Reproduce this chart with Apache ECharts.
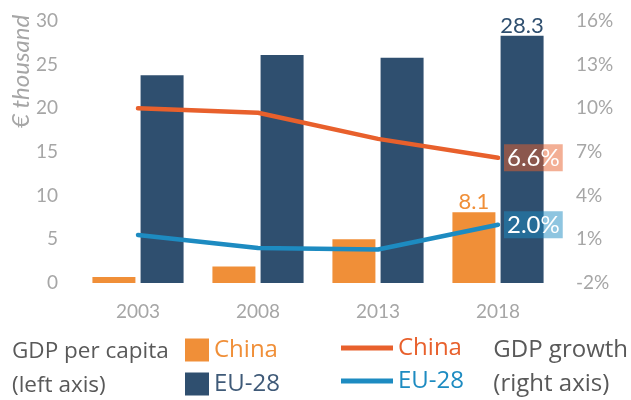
<!DOCTYPE html>
<html>
<head>
<meta charset="utf-8">
<script src="https://cdn.jsdelivr.net/npm/echarts@6/dist/echarts.min.js"></script>
<style>html,body{margin:0;padding:0;background:#fff}#c{width:631px;height:400px}</style>
</head>
<body>
<div id="c"></div>
<script>
const years = ['2003', '2008', '2013', '2018'];
const chinaGdpPerCapita = [0.7, 1.9, 5.0, 8.1];
const euGdpPerCapita = [23.8, 26.1, 25.8, 28.3];
const chinaGrowth = [10.0, 9.7, 7.9, 6.6];
const euGrowth = [1.3, 0.4, 0.3, 2.0];
const leftTicks = [0, 5, 10, 15, 20, 25, 30];
const rightTicks = [-2, 1, 4, 7, 10, 13, 16];

const C_BAR_CN = '#F08F38', C_BAR_EU = '#2F4F6F', C_LN_CN = '#E8602C', C_LN_EU = '#1D8BC1';
const AX = '#A6A6A6';
const LF = '"Lato", sans-serif', TF = '"Open Sans", sans-serif';

const chart = echarts.init(document.getElementById('c'), null, {renderer: 'canvas'});
const lastIdx = years.length - 1;
function lastOnly(arr, color) {
  return arr.map((v, i) => i === lastIdx ? {
    value: v,
    label: {show: true, position: 'top', distance: -1, color: color, fontFamily: LF, fontSize: 22,
      formatter: (p) => p.value.toFixed(1)}
  } : v);
}
function endLab(bg) {
  return {show: true, distance: 6, color: '#fff', fontFamily: LF, fontSize: 24,
    backgroundColor: bg, padding: [2, 3, 1, 3], formatter: (p) => Number(p.value).toFixed(1) + '%'};
}
const legendBase = {orient: 'vertical', itemGap: 0, padding: 0, textStyle: {fontFamily: TF, fontSize: 24}};
chart.setOption({
  animation: false,
  grid: {left: 78, right: 73, top: 21, bottom: 117},
  xAxis: {
    type: 'category', data: years,
    axisLine: {show: false}, axisTick: {show: false},
    axisLabel: {color: AX, fontFamily: LF, fontSize: 19, margin: 19}
  },
  yAxis: [{
    type: 'value', min: leftTicks[0], max: leftTicks[leftTicks.length - 1], interval: 5,
    splitLine: {show: false}, axisLine: {show: false}, axisTick: {show: false},
    axisLabel: {color: AX, fontFamily: LF, fontSize: 19, margin: 20}
  }, {
    type: 'value', min: rightTicks[0], max: rightTicks[rightTicks.length - 1], interval: 3,
    splitLine: {show: false}, axisLine: {show: false}, axisTick: {show: false},
    axisLabel: {color: AX, fontFamily: LF, fontSize: 19, margin: 18, formatter: '{value}%'}
  }],
  legend: [
    Object.assign({}, legendBase, {left: 185, top: 338, itemWidth: 24, itemHeight: 23, itemGap: 4, icon: 'rect',
      data: [{name: 'China GDP per capita', textStyle: {color: C_BAR_CN}}], formatter: () => 'China'}),
    Object.assign({}, legendBase, {left: 185, top: 372, itemWidth: 24, itemHeight: 23, itemGap: 4, icon: 'rect',
      data: [{name: 'EU-28 GDP per capita', textStyle: {color: '#3F5A78'}}], formatter: () => 'EU-28'}),
    Object.assign({}, legendBase, {left: 341, top: 336, itemWidth: 52, itemHeight: 29, itemGap: 6, icon: 'path://M0,12 L52,12 L52,17 L0,17 Z',
      data: [{name: 'China GDP growth', textStyle: {color: C_LN_CN}}], formatter: () => 'China'}),
    Object.assign({}, legendBase, {left: 341, top: 369, itemWidth: 52, itemHeight: 29, itemGap: 6, icon: 'path://M0,12 L52,12 L52,17 L0,17 Z',
      data: [{name: 'EU-28 GDP growth', textStyle: {color: C_LN_EU}}], formatter: () => 'EU-28'})
  ],
  graphic: [
    {type: 'text', left: 12, top: 335, style: {text: 'GDP per capita\n(left axis)', fill: '#595959', font: '22.5px "Open Sans"', lineHeight: 34}},
    {type: 'text', right: 3, top: 333, style: {text: 'GDP growth\n(right axis)', fill: '#595959', font: '24px "Open Sans"', lineHeight: 34, align: 'right'}},
    {type: 'text', x: 9, y: 128, rotation: Math.PI / 2,
      style: {text: '€ thousand', fill: AX, font: 'italic 24px "Lato"', align: 'left', verticalAlign: 'top'}}
  ],
  series: [
    {name: 'China GDP per capita', type: 'bar', yAxisIndex: 0, barWidth: 43, barGap: '12%',
      itemStyle: {color: C_BAR_CN}, data: lastOnly(chinaGdpPerCapita, C_BAR_CN)},
    {name: 'EU-28 GDP per capita', type: 'bar', yAxisIndex: 0, barWidth: 43, barGap: '12%',
      itemStyle: {color: C_BAR_EU}, data: lastOnly(euGdpPerCapita, C_BAR_EU)},
    {name: 'China GDP growth', type: 'line', yAxisIndex: 1, smooth: false, symbol: 'none',
      lineStyle: {color: C_LN_CN, width: 4.5, cap: 'round', join: 'round'}, itemStyle: {color: C_LN_CN},
      endLabel: endLab('rgba(232,96,44,0.5)'), data: chinaGrowth, z: 5},
    {name: 'EU-28 GDP growth', type: 'line', yAxisIndex: 1, smooth: false, symbol: 'none',
      lineStyle: {color: C_LN_EU, width: 4.5, cap: 'round', join: 'round'}, itemStyle: {color: C_LN_EU},
      endLabel: endLab('rgba(29,139,193,0.5)'), data: euGrowth, z: 5}
  ]
});
</script>
</body>
</html>
